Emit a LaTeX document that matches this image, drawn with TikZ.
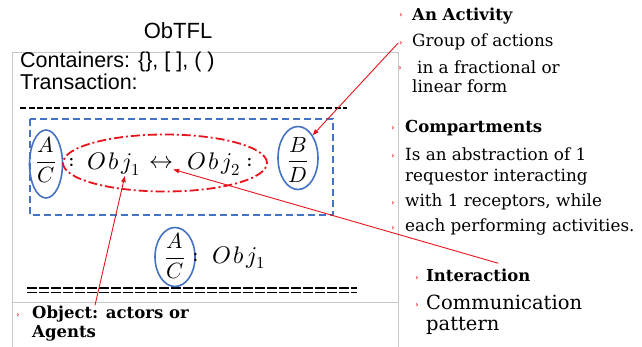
\documentclass[tikz,border=0pt]{standalone}
\usepackage{fontspec}
\usepackage{unicode-math}
\setmainfont{DejaVu Serif}
\setsansfont{Liberation Sans}
\setmathfont{Latin Modern Math}
\usetikzlibrary{arrows.meta, positioning, shapes.geometric}
\definecolor{boxBlue}{HTML}{4472C4}
\definecolor{linkRed}{HTML}{E8141B}
\definecolor{frameGray}{HTML}{C8C8C8}

\begin{document}
\begin{tikzpicture}[x=1pt, y=-1pt]
  \tikzset{
    sans/.style={font=\sffamily\fontsize{21.5}{24}\selectfont, inner sep=0pt, anchor=base west},
    note/.style={font=\fontsize{16.8}{20}\selectfont, inner sep=0pt, anchor=base west},
    head/.style={font=\bfseries\fontsize{16.5}{20}\selectfont, inner sep=0pt, anchor=base west},
    tick/.style={text=linkRed, font=\bfseries\fontsize{8}{8}\selectfont, inner sep=1pt},
    ring/.style={ellipse, draw=boxBlue, line width=1.6pt, inner sep=0pt},
    expr/.style={font=\fontsize{24}{28}\selectfont, inner sep=0pt},
    pointer/.style={draw=linkRed, line width=0.9pt, -{Triangle[length=6pt, width=4.5pt]}},
  }
  \useasboundingbox (0,0) rectangle (642,347);

  % ObTFL box
  \draw[frameGray, line width=0.8pt] (12,347) -- (12,52) -- (398,52) -- (398,347);
  \draw[frameGray, line width=0.8pt] (12,302) -- (398,302);
  \node[font=\sffamily\fontsize{22}{24}\selectfont, anchor=base] (title) at (178,39) {ObTFL};
  \node[sans] (cont) at (20,68) {Containers: \{\}, [ ], ( )};
  \node[sans] (trans) at (20,90) {Transaction:};

  % separators
  \draw[line width=1.3pt, dash pattern=on 6pt off 2.5pt] (20,108) -- (347,108);
  \draw[line width=1.1pt, dash pattern=on 10pt off 2pt] (27,288) -- (357,288);
  \draw[line width=1.1pt, dash pattern=on 10pt off 2pt] (27,292.5) -- (357,292.5);

  % compartment with two objects
  \draw[boxBlue, line width=1.8pt, dash pattern=on 7pt off 4pt] (30,119) rectangle (333,215);
  \node[ring, minimum width=33pt, minimum height=68pt] (acring) at (46,164) {};
  \node[expr, font=\fontsize{22}{26}\selectfont] (ac) at (46,160) {$\displaystyle\frac{A}{C}$};
  \node[ellipse, draw=linkRed, line width=1.8pt, dash pattern=on 9pt off 3pt on 2pt off 3pt,
    minimum width=204pt, minimum height=57pt] (pair) at (165,163) {};
  \node[expr] (c1) at (72,163) {$:$};
  \node[expr, anchor=base west] (obja) at (87,170) {$O\mkern2mu b\mkern2mu j_1$};
  \node[expr] (lr) at (161,163) {$\leftrightarrow$};
  \node[expr, anchor=base west] (objb) at (187,170) {$O\mkern2mu b\mkern2mu j_2$};
  \node[expr] (c2) at (250,163) {$:$};
  \node[ring, minimum width=40pt, minimum height=63pt] (bdring) at (298,158) {};
  \node[expr, font=\fontsize{22}{26}\selectfont] (bd) at (298,160) {$\displaystyle\frac{B}{D}$};

  % single object
  \node[ring, minimum width=40pt, minimum height=59pt] (acring2) at (175,257) {};
  \node[expr, font=\fontsize{22}{26}\selectfont] (ac2) at (175,256) {$\displaystyle\frac{A}{C}$};
  \node[expr] (c3) at (196,258) {$:$};
  \node[expr, anchor=base west] (objc) at (212,263) {$O\mkern2mu b\mkern2mu j_1$};

  % object note
  \node[tick] (objdot) at (18,315) {›};
  \node[head] (objtxt) at (32,318) {Object: actors or};
  \node[head] (objtxt2) at (32,337) {Agents};

  % activity notes
  \node[tick] (actdot) at (401,15) {›};
  \node[head] (act) at (412,21) {An Activity};
  \node[tick] (grpdot) at (401,43) {›};
  \node[note] (grp) at (412,47) {Group of actions};
  \node[tick] (fracdot) at (400,68) {›};
  \node[note] (fracl) at (417,74) {in a fractional or};
  \node[note] (lin) at (412,93) {linear form};

  % compartment notes
  \node[tick] (cmpdot) at (393,128) {›};
  \node[head] (cmp) at (405,133) {Compartments};
  \node[tick] (absdot) at (393,156) {›};
  \node[note] (abs) at (405,161) {Is an abstraction of 1};
  \node[note] (req) at (405,182) {requestor interacting};
  \node[tick] (rcpdot) at (393,203) {›};
  \node[note] (rcp) at (405,207) {with 1 receptors, while};
  \node[tick] (eachdot) at (393,228) {›};
  \node[note] (each) at (405,232) {each performing activities.};

  % interaction notes
  \node[tick] (intdot) at (417,278) {›};
  \node[head] (inter) at (426,281) {Interaction};
  \node[tick] (comdot) at (417,305) {›};
  \node[note, font=\fontsize{19.5}{22}\selectfont] (com) at (426,309) {Communication};
  \node[note, font=\fontsize{19.5}{22}\selectfont] (pat) at (426,330) {pattern};

  % pointers
  \draw[pointer] (grpdot.west) -- (bdring.north east);
  \draw[pointer] ([xshift=20pt, yshift=5pt]inter.north) -- (lr.south east);
  \draw[pointer] ([xshift=63pt]objtxt.north west) -- ([xshift=11pt]obja.south);
\end{tikzpicture}
\end{document}
